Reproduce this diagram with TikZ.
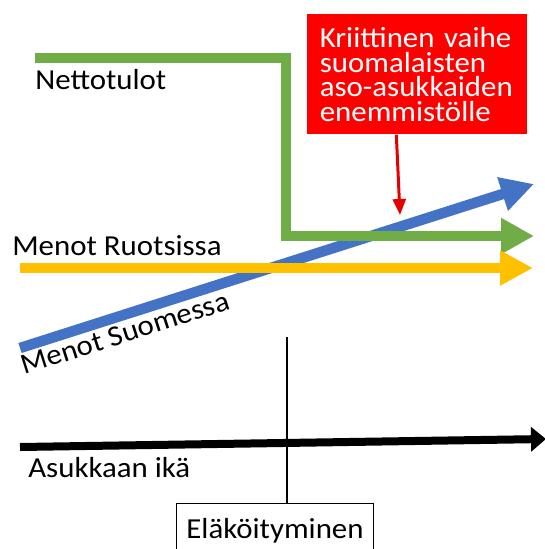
\documentclass[tikz,border=0pt]{standalone}
\usepackage{fontspec}
\setmainfont{Carlito}[FakeStretch=1.065]
\usetikzlibrary{arrows.meta,positioning}

\definecolor{incgreen}{RGB}{112,173,71}
\definecolor{costblue}{RGB}{68,114,196}
\definecolor{costyellow}{RGB}{255,192,0}
\definecolor{critred}{RGB}{255,0,0}

\begin{document}
\begin{tikzpicture}[
    x=0.02cm, y=-0.02cm,
    curve/.style={line width=0.21cm, -{Triangle[length=0.66cm, width=0.66cm]}},
    axis/.style={line width=0.16cm, -{Triangle[length=0.3cm, width=0.48cm]}},
    lbl/.style={font=\fontsize{16.5}{14}\selectfont, inner sep=0pt},
    critbox/.style={rectangle, fill=critred, text=white, font=\fontsize{16.5}{14}\selectfont, align=left, text width=3.9cm, inner xsep=0.25cm, minimum height=2.4cm},
    eventbox/.style={rectangle, draw, line width=0.6pt, font=\fontsize{16.5}{14}\selectfont, minimum width=3.94cm, minimum height=1.08cm},
    pointer/.style={draw=critred!90!black, line width=0.06cm, -{Triangle[length=0.32cm, width=0.26cm]}}
]
\clip (0,0) rectangle (545,549);

% Define points
\coordinate (netstart) at (35,58);
\coordinate (netcorner1) at (286,58);
\coordinate (netcorner2) at (286,236);
\coordinate (netend) at (534,236);
\coordinate (swestart) at (20,268);
\coordinate (sweend) at (533,268);
\coordinate (finstart) at (20,348);
\coordinate (finend) at (534,184);
\coordinate (agestart) at (20,447);
\coordinate (ageend) at (546,439);
\coordinate (retiretop) at (287,337);
\coordinate (crittip) at (400,215);

% Define nodes
\node[critbox, anchor=north west] (crit) at (307,14) {Kriittinen vaihe\\suomalaisten\\aso-asukkaiden\\enemmistölle};
\node[eventbox, anchor=north] (retire) at (275,503) {Eläköityminen};
\node[lbl, anchor=base west] (nettotulot) at (35,89) {Nettotulot};
\node[lbl, anchor=base west] (ruotsi) at (12,255) {Menot Ruotsissa};
\node[lbl, anchor=base west, rotate=17.7] (suomi) at (24,375) {Menot Suomessa};
\node[lbl, anchor=base west] (ika) at (28,477) {Asukkaan ikä};

% Connect nodes
\draw[curve, costblue] (finstart) -- (finend);
\draw[curve, incgreen, -{Triangle[length=0.66cm, width=0.68cm]}] (netstart) -- (netcorner1) -- (netcorner2) -- (netend);
\draw[curve, costyellow] (swestart) -- (sweend);
\draw[axis] (agestart) -- (ageend);
\draw[line width=0.05cm] (retiretop) -- (retiretop |- retire.north);
\draw[pointer] ([xshift=-0.42cm]crit.south) -- (crittip);

\end{tikzpicture}
\end{document}
